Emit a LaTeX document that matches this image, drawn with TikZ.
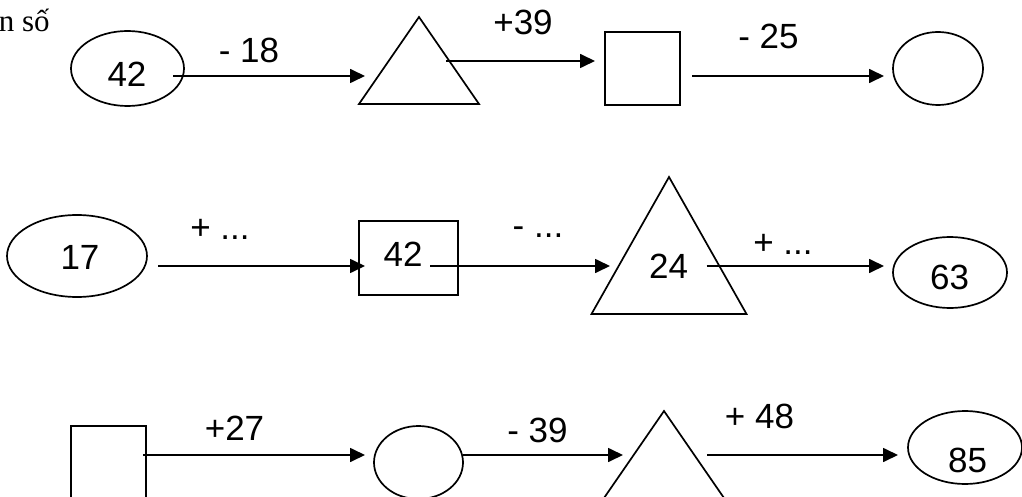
\documentclass[tikz,border=0pt]{standalone}
\usepackage{fontspec}
\setmainfont{Liberation Sans}
\newfontfamily\serifvn{Liberation Serif}
\usepackage{tikz}
\usetikzlibrary{arrows.meta,shapes.geometric,positioning,calc}

\begin{document}
\begin{tikzpicture}[x=1pt, y=-1pt, line width=1.7pt,
    font=\fontsize{35}{40}\selectfont,
    oval/.style={draw, ellipse, inner sep=0pt, outer sep=0pt},
    box/.style={draw, rectangle, inner sep=0pt, outer sep=0pt},
    tribox/.style={rectangle, inner sep=0pt, outer sep=0pt},
    arr/.style={-{Triangle[length=15pt, width=14pt]}}]
  \useasboundingbox (0,0) rectangle (1022,497);
  \node[anchor=base west, inner sep=0pt, font=\serifvn\fontsize{31}{36}\selectfont] (head) at (-2,32) {n số};
  % first row
  \node[oval, minimum width=113pt, minimum height=75pt] (o1) at (127.5,68.5) {};
  \node (n1) at (127,74) {42};
  \node[tribox, minimum width=120pt, minimum height=87pt] (t1) at (419,60.5) {};
  \draw (t1.south west) -- (t1.north) -- (t1.south east) -- cycle;
  \node[box, minimum width=75pt, minimum height=73pt] (s1) at (642.5,68.5) {};
  \node[oval, minimum width=90pt, minimum height=73pt] (o2) at (938,68.5) {};
  \draw[arr, shorten <=-11pt, shorten >=-6pt] (o1.east |- 0,76) -- (t1.west |- 0,76);
  \draw[arr, shorten <=-33pt, shorten >=10pt] (t1.east |- 0,61) -- (s1.west |- 0,61);
  \draw[arr, shorten <=12pt, shorten >=9pt] (s1.east |- 0,76) -- (o2.west |- 0,76);
  \node (l1) at (249,50.5) {- 18};
  \node (l2) at (523,22.5) {+39};
  \node (l3) at (768.5,36.5) {- 25};
  % second row
  \node[oval, minimum width=140pt, minimum height=82pt] (o3) at (77,256) {};
  \node (n3) at (80,257.5) {17};
  \node[box, minimum width=99pt, minimum height=74pt] (b2) at (408.5,258) {};
  \node (n4) at (403,254.5) {42};
  \node[tribox, minimum width=155pt, minimum height=137pt] (t2) at (669,245.5) {};
  \draw (t2.south west) -- (t2.north) -- (t2.south east) -- cycle;
  \node (n5) at (668.5,266.5) {24};
  \node[oval, minimum width=114pt, minimum height=71pt] (o4) at (950,272.5) {};
  \node (n6) at (949.5,277.5) {63};
  \draw[arr, shorten <=11pt, shorten >=-6pt] (o3.east |- 0,266) -- (b2.west |- 0,266);
  \draw[arr, shorten <=-28pt, shorten >=-18.5pt] (b2.east |- 0,266) -- (t2.west |- 0,266);
  \draw[arr, shorten <=-40pt, shorten >=9pt] (t2.east |- 0,266) -- (o4.west |- 0,266);
  \node (l4) at (220,229) {+ ...};
  \node (l5) at (538,232.5) {- ...};
  \node (l6) at (783,244) {+ ...};
  % third row
  \node[box, minimum width=75pt, minimum height=74pt] (s3) at (108.5,463) {};
  \node[oval, minimum width=89pt, minimum height=73pt] (o5) at (418.5,462.5) {};
  \node[tribox, minimum width=120pt, minimum height=87pt] (t3) at (664,454.5) {};
  \draw (t3.south west) -- (t3.north) -- (t3.south east) -- cycle;
  \node[oval, minimum width=114pt, minimum height=73pt] (o6) at (965,447.5) {};
  \node (n7) at (967.5,460) {85};
  \draw[arr, shorten <=-3pt, shorten >=9pt] (s3.east |- 0,455) -- (o5.west |- 0,455);
  \draw[arr, shorten >=-19pt] (o5.east |- 0,455) -- (t3.west |- 0,455);
  \draw[arr, shorten <=-17pt, shorten >=10pt] (t3.east |- 0,455) -- (o6.west |- 0,455);
  \node (l7) at (234.5,428.5) {+27};
  \node (l8) at (537.5,430) {- 39};
  \node (l9) at (759.5,416.5) {+ 48};
\end{tikzpicture}
\end{document}
